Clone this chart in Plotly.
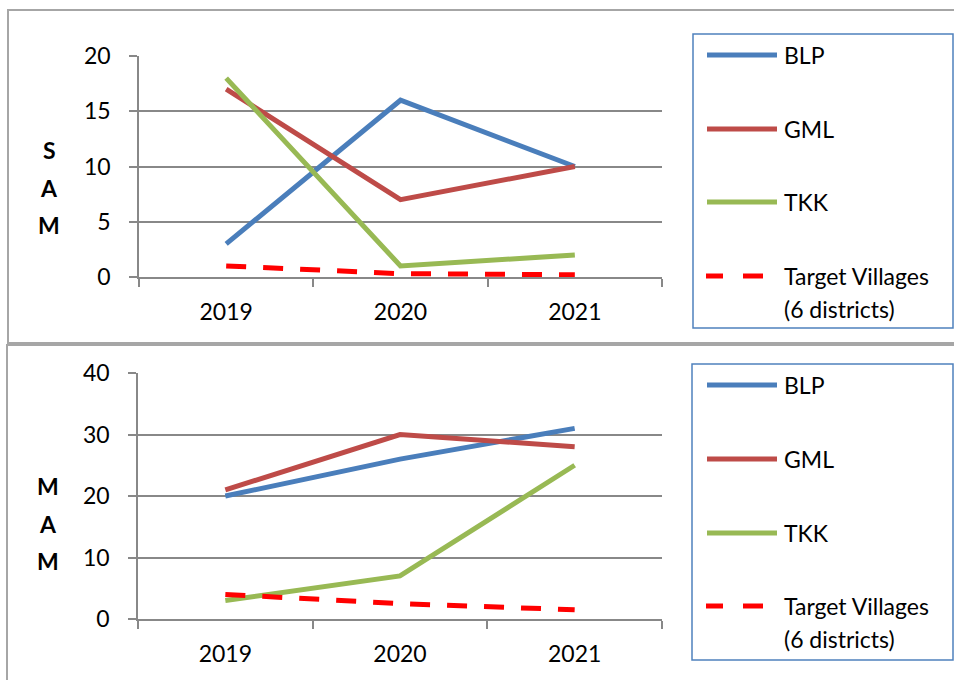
import plotly.graph_objects as go

W, H = 954, 680

years = ["2019", "2020", "2021"]
series_names = ["BLP", "GML", "TKK", "Target Villages<br>(6 districts)"]
series_colors = ["#4a7ebb", "#be4b48", "#98b954", "#ff0000"]

sam_blp = [3, 16, 10]
sam_gml = [17, 7, 10]
sam_tkk = [18, 1, 2]
sam_target = [1, 0.3, 0.2]

mam_blp = [20, 26, 31]
mam_gml = [21, 30, 28]
mam_tkk = [3, 7, 25]
mam_target = [4, 2.5, 1.5]

sam_ticks = [0, 5, 10, 15, 20]
mam_ticks = [0, 10, 20, 30, 40]
panel_labels = ["SAM", "MAM"]

FONT = "Lato"
FS = 23
GRID = "#888888"
FRAME = "#a6a6a6"


def px(x):
    return x / W


def py(y):
    return 1 - y / H


fig = go.Figure()

panels = [
    dict(data=[sam_blp, sam_gml, sam_tkk, sam_target], xa="x", ya="y",
         xdom=[px(139), px(662)], ydom=[py(277), py(56)], yr=[0, 20], ticks=sam_ticks),
    dict(data=[mam_blp, mam_gml, mam_tkk, mam_target], xa="x2", ya="y2",
         xdom=[px(138), px(662)], ydom=[py(619), py(373)], yr=[0, 40], ticks=mam_ticks),
]

for p in panels:
    for i, vals in enumerate(p["data"]):
        dash = "solid" if i < 3 else "20px,17px"
        fig.add_trace(go.Scatter(
            x=years, y=vals, mode="lines", xaxis=p["xa"], yaxis=p["ya"],
            line=dict(color=series_colors[i], width=5, dash=dash),
            name=series_names[i], showlegend=False, hoverinfo="skip",
        ))

axis_common = dict(showline=True, linecolor=GRID, linewidth=1.5,
                   ticks="outside", tickcolor=GRID, tickwidth=1.5, ticklen=8,
                   tickfont=dict(family=FONT, size=FS, color="#000000"),
                   zeroline=False, fixedrange=True, automargin=False)

layout = dict(
    width=W, height=H, margin=dict(l=0, r=0, t=0, b=0, autoexpand=False),
    paper_bgcolor="white", plot_bgcolor="white", showlegend=False,
)
for k, p in enumerate(panels):
    sx = "" if k == 0 else "2"
    layout["xaxis" + sx] = dict(
        domain=p["xdom"], anchor="y" + sx, type="category",
        range=[-0.5, 2.5], tickson="boundaries", showgrid=False,
        ticklabelstandoff=14, **axis_common)
    layout["yaxis" + sx] = dict(
        domain=p["ydom"], anchor="x" + sx, range=p["yr"],
        tickvals=p["ticks"], showgrid=True, gridcolor=GRID, gridwidth=1.5,
        ticklabelstandoff=14, **axis_common)
fig.update_layout(**layout)

shapes = []
annotations = []

# panel frames
shapes.append(dict(type="rect", xref="paper", yref="paper",
                   x0=px(8), x1=px(960), y0=py(343), y1=py(10),
                   line=dict(color=FRAME, width=2)))
shapes.append(dict(type="rect", xref="paper", yref="paper",
                   x0=px(7), x1=px(960), y0=py(690), y1=py(345),
                   line=dict(color=FRAME, width=2)))

# vertical stacked panel labels
label_pos = [(49, [150, 188, 225]), (48, [486, 524, 561])]
for lab, (lx, ys) in zip(panel_labels, label_pos):
    for ch, yy in zip(lab, ys):
        annotations.append(dict(xref="paper", yref="paper", x=px(lx), y=py(yy),
                                text="<b>%s</b>" % ch, showarrow=False,
                                xanchor="center", yanchor="middle",
                                font=dict(family=FONT, size=FS, color="#000000")))

# legends
legend_boxes = [
    dict(box=(693, 34, 953, 328), ys=[55, 129, 202, 276]),
    dict(box=(692, 364, 953, 660), ys=[385, 459, 533, 606]),
]
LINE_GAP = 33
for lg in legend_boxes:
    x0, y0, x1, y1 = lg["box"]
    shapes.append(dict(type="rect", xref="paper", yref="paper",
                       x0=px(x0), x1=px(x1), y0=py(y1), y1=py(y0),
                       line=dict(color="#4f81bd", width=1.5),
                       fillcolor="white"))
    for i, yy in enumerate(lg["ys"]):
        if i < 3:
            shapes.append(dict(type="line", xref="paper", yref="paper",
                               x0=px(707), x1=px(777), y0=py(yy), y1=py(yy),
                               line=dict(color=series_colors[i], width=5)))
        else:
            for a, b in [(706, 723), (743, 763)]:
                shapes.append(dict(type="line", xref="paper", yref="paper",
                                   x0=px(a), x1=px(b), y0=py(yy), y1=py(yy),
                                   line=dict(color=series_colors[i], width=5)))
        for j, part in enumerate(series_names[i].split("<br>")):
            annotations.append(dict(xref="paper", yref="paper", x=px(782),
                                    y=py(yy + j * LINE_GAP),
                                    text=part, showarrow=False,
                                    xanchor="left", yanchor="middle",
                                    align="left",
                                    font=dict(family=FONT, size=FS, color="#000000")))

fig.update_layout(shapes=shapes, annotations=annotations)
fig.write_html("out.html")
